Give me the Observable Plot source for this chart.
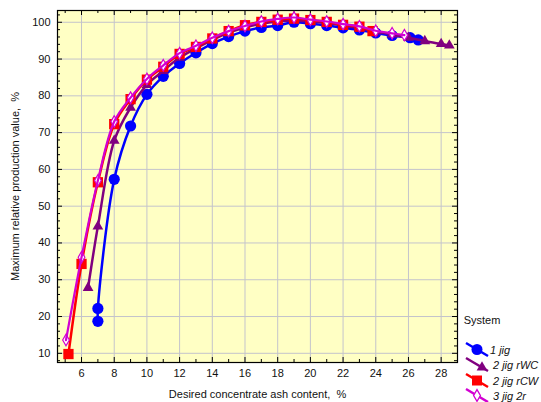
<!DOCTYPE html>
<html><head><meta charset="utf-8">
<script src="https://cdn.jsdelivr.net/npm/d3@7"></script>
<script src="https://cdn.jsdelivr.net/npm/@observablehq/plot@0.6"></script>
<style>
body{margin:0;background:#fff;font-family:Arial,"Liberation Sans",sans-serif;}
#wrap{position:relative;width:541px;height:402px;}
#wrap svg, #wrap svg text{font-family:Arial,"Liberation Sans",sans-serif !important;}
#legend{position:absolute;left:0;top:0;}
</style></head>
<body><div id="wrap"></div>
<script>
// Series data
const jig1X = [7, 7, 8, 9, 10, 11, 12, 13, 14, 15, 16, 17, 18, 19, 20, 21, 22, 23, 24, 25, 26.1, 26.6];
const jig1Y = [18.7, 22.2, 57.3, 71.8, 80.4, 85.3, 88.8, 91.7, 94.2, 96.1, 97.6, 98.6, 99.1, 100, 99.6, 99.1, 98.5, 97.9, 97.1, 96.4, 95.8, 95.2];

const rwcX = [6.4, 7, 8, 9, 10, 11, 12, 13, 14, 15, 16, 17, 18, 19, 20, 21, 22, 23, 24, 25, 26, 27, 28, 28.5];
const rwcY = [27.8, 44.5, 67.8, 76.8, 83.0, 86.8, 90.4, 92.9, 95.2, 97.2, 98.6, 99.6, 100.2, 100.5, 100.2, 99.8, 99.1, 98.4, 97.5, 96.7, 95.8, 94.9, 94.1, 93.7];

const rcwX = [5.2, 6, 7, 8, 9, 10, 11, 12, 13, 14, 15, 16, 17, 18, 19, 20, 21, 22, 23, 23.8];
const rcwY = [9.8, 34.3, 56.5, 72.3, 79.1, 84.4, 87.9, 91.4, 93.3, 95.6, 97.6, 99.2, 100.1, 100.7, 101.0, 100.6, 100.1, 99.3, 98.8, 97.6];

const r2X = [5.05, 6, 7, 8, 9, 10, 11, 12, 13, 14, 15, 16, 17, 18, 19, 20, 21, 22, 23, 24, 25, 25.75];
const r2Y = [13.6, 36.1, 57.0, 73.0, 79.5, 84.6, 88.3, 91.6, 93.6, 95.8, 97.6, 99.0, 100.2, 100.9, 101.3, 100.7, 100.2, 99.5, 98.9, 97.7, 97.0, 96.5];

const seriesNames = ["1 jig", "2 jig rWC", "2 jig rCW", "3 jig 2r"];
const xTicks = [6, 8, 10, 12, 14, 16, 18, 20, 22, 24, 26, 28];
const xMinor = [5, 7, 9, 11, 13, 15, 17, 19, 21, 23, 25, 27, 29];
const yTicks = [10, 20, 30, 40, 50, 60, 70, 80, 90, 100];
const yMinor = [8, 12, 14, 16, 18, 22, 24, 26, 28, 32, 34, 36, 38, 42, 44, 46, 48, 52, 54, 56, 58, 62, 64, 66, 68, 72, 74, 76, 78, 82, 84, 86, 88, 92, 94, 96, 98, 102];
const xLabel = "Desired concentrate ash content,  %";
const yLabel = "Maximum relative production value,  %";
const legendTitle = "System";

const toRows = (xs, ys) => xs.map((x, i) => ({x, y: ys[i]}));
const s1 = toRows(jig1X, jig1Y), s2 = toRows(rwcX, rwcY), s3 = toRows(rcwX, rcwY), s4 = toRows(r2X, r2Y);

const W = 541, H = 402, mL = 57, mR = 84, mT = 10, mB = 40;
const pw = W - mL - mR, ph = H - mT - mB;
const FONT = "Arial, 'Liberation Sans', sans-serif";

function sideTicks(len, vals, axis) {
  if (axis === "y") return [
    Plot.tickY(vals, {y: d => d, stroke: "#000", insetRight: pw - len}),
    Plot.tickY(vals, {y: d => d, stroke: "#000", insetLeft: pw - len})
  ];
  return [
    Plot.tickX(vals, {x: d => d, stroke: "#000", insetTop: ph - len}),
    Plot.tickX(vals, {x: d => d, stroke: "#000", insetBottom: ph - len})
  ];
}

const chart = Plot.plot({
  width: W, height: H,
  marginLeft: mL, marginRight: mR, marginTop: mT, marginBottom: mB,
  style: {fontFamily: FONT, fontSize: "11px", background: "transparent"},
  x: {domain: [4.53, 29.0]},
  y: {domain: [7.5, 103.2]},
  marks: [
    Plot.frame({fill: "#ffffc4", stroke: null}),
    Plot.ruleX(xTicks, {stroke: "#c4c4cc", strokeWidth: 1}),
    Plot.ruleY(yTicks, {stroke: "#c4c4cc", strokeWidth: 1}),
    ...sideTicks(5, xTicks, "x"), ...sideTicks(3, xMinor, "x"),
    ...sideTicks(5, yTicks, "y"), ...sideTicks(3, yMinor, "y"),
    Plot.frame({stroke: "#000", strokeWidth: 1.2}),
    Plot.axisX({ticks: xTicks, tickSize: 0, tickPadding: 7, label: null, fontSize: 11, fill: "#111"}),
    Plot.axisY({ticks: yTicks, tickSize: 0, tickPadding: 7, label: null, fontSize: 11, fill: "#111"}),
    Plot.text([xLabel], {text: d => d, frameAnchor: "bottom", textAnchor: "middle", dy: 35, fontSize: 11, fill: "#111"}),
    Plot.text([yLabel], {text: d => d, frameAnchor: "left", textAnchor: "middle", dx: -42, rotate: -90, fontSize: 11, fill: "#111"}),

    Plot.line(s1, {x: "x", y: "y", stroke: "#0000ff", strokeWidth: 2.5, curve: "catmull-rom"}),
    Plot.dot(s1, {x: "x", y: "y", fill: "#0000ff", r: 5.6, symbol: "circle"}),
    Plot.line(s2, {x: "x", y: "y", stroke: "#800080", strokeWidth: 2.5, curve: "catmull-rom"}),
    Plot.dot(s2, {x: "x", y: "y", fill: "#800080", r: 4, symbol: "triangle"}),
    Plot.line(s3, {x: "x", y: "y", stroke: "#ff0000", strokeWidth: 2.5, curve: "catmull-rom"}),
    Plot.dot(s3, {x: "x", y: "y", fill: "#ff0000", r: 5.8, symbol: "square"}),
    Plot.dot(s4, {x: "x", y: "y", fill: "#ffffff", stroke: "#d200d2", strokeWidth: 1.2, r: 3.5, symbol: "diamond"}),
    Plot.line(s4, {x: "x", y: "y", stroke: "#d200d2", strokeWidth: 2.2, curve: "catmull-rom"})
  ]
});

const wrap = document.getElementById("wrap");
wrap.appendChild(chart);

// Legend (overlay on the right-bottom)
const colors = ["#0000ff", "#800080", "#ff0000", "#d200d2"];
const lg = d3.create("svg").attr("id", "legend").attr("width", W).attr("height", H)
  .style("font-family", FONT).style("pointer-events", "none");
lg.append("text").attr("x", 482).attr("y", 324).attr("text-anchor", "middle")
  .attr("font-size", 11).attr("fill", "#111").text(legendTitle);
const rowsY = [350, 365, 381, 396];
seriesNames.forEach((name, i) => {
  const cy = rowsY[i];
  const g = lg.append("g");
  g.append("line").attr("x1", 466).attr("y1", cy - 7).attr("x2", 488).attr("y2", cy + 6)
    .attr("stroke", colors[i]).attr("stroke-width", 2.5);
  const cx = 477, c = cy - 0.5;
  if (i === 0) g.append("circle").attr("cx", cx).attr("cy", c).attr("r", 5.5).attr("fill", colors[i]);
  if (i === 1) g.append("path").attr("d", d3.symbol(d3.symbolTriangle, 50)()).attr("transform", `translate(${cx + 5},${c + 3}) rotate(120)`).attr("fill", colors[i]);
  if (i === 2) g.append("rect").attr("x", cx - 5).attr("y", c - 5).attr("width", 10).attr("height", 10).attr("fill", colors[i]);
  if (i === 3) g.append("path").attr("d", d3.symbol(d3.symbolDiamond, 40)()).attr("transform", `translate(${cx},${c})`).attr("fill", "#fff").attr("stroke", colors[i]).attr("stroke-width", 1.3);
  g.append("text").attr("x", i === 0 ? 490 : 493).attr("y", cy + 4).attr("font-size", 11)
    .attr("font-style", "italic").attr("fill", "#111").text(name);
});
wrap.appendChild(lg.node());
</script></body></html>
